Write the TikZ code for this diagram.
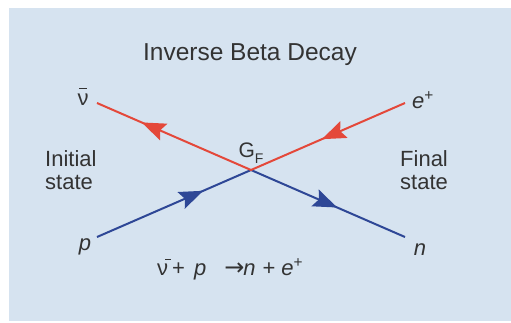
\documentclass[tikz,border=0pt]{standalone}
\usepackage{fontspec}
\setmainfont{Liberation Sans}
\newfontfamily\dejavu{DejaVu Sans}
\usetikzlibrary{arrows.meta,decorations.markings}
\definecolor{bgc}{HTML}{D6E3F0}
\definecolor{lred}{HTML}{E4483A}
\definecolor{lblue}{HTML}{2E4796}
\definecolor{txt}{HTML}{333333}
\newcommand{\nubar}{\leavevmode\rlap{\kern1.5pt\rule[16pt]{8pt}{1.2pt}}ν}
\begin{document}
\begin{tikzpicture}[x=1pt,y=-1pt,
  lbl/.style={text=txt,inner sep=0pt,font=\fontsize{22}{23}\selectfont},
  redline/.style={draw=lred,line width=2pt},
  blueline/.style={draw=lblue,line width=2pt},
  midarrow/.style={postaction={decorate},decoration={markings,
     mark=at position #1 with {\arrow{Stealth[length=24pt,width=18pt,inset=4pt]}}}}]
\useasboundingbox (0,0) rectangle (511,322);
\fill[bgc] (9,8) rectangle (511,321);
% title
\node[lbl,anchor=base,font=\fontsize{24.5}{26}\selectfont] (title) at (250,60) {Inverse Beta Decay};
% states
\node[lbl,anchor=west,align=left] (init) at (45,170) {Initial\\state};
\node[lbl,anchor=west,align=left] (fin) at (400,170) {Final\\state};
% particle labels
\node[lbl,anchor=base] (nu) at (83,105) {\nubar};
\node[lbl,anchor=base west] (ep) at (412,108) {\textit{e}\textsuperscript{+}};
\node[lbl,anchor=base] (p) at (85,250) {\textit{p}};
\node[lbl,anchor=base] (n) at (420,255) {\textit{n}};
\node[lbl,anchor=base,font=\fontsize{21}{22}\selectfont] (gf) at (251,157) {G\raisebox{-6pt}{\fontsize{14}{14}\selectfont F}};
% equation
\node[lbl,anchor=base west] (eq) at (157,275) {ν\kern-3pt\rule[15pt]{6pt}{1.2pt}\kern1pt+\kern9pt\textit{p}\kern18pt{\dejavu\fontsize{24}{24}\selectfont →}\kern-1pt\textit{n}\kern7pt+\kern6pt\textit{e}\textsuperscript{+}};
% lines
\coordinate (V) at (251,170);
\coordinate (nuE) at (97,103);
\coordinate (epE) at (405,103);
\coordinate (pE) at (97,237);
\coordinate (nE) at (405,237);
\draw[blueline,midarrow=0.69] (pE) -- (V);
\draw[blueline,midarrow=0.56] (V) -- (nE);
\draw[redline,midarrow=0.71] (V) -- (nuE);
\draw[redline,midarrow=0.54] (epE) -- (V);
\end{tikzpicture}
\end{document}
